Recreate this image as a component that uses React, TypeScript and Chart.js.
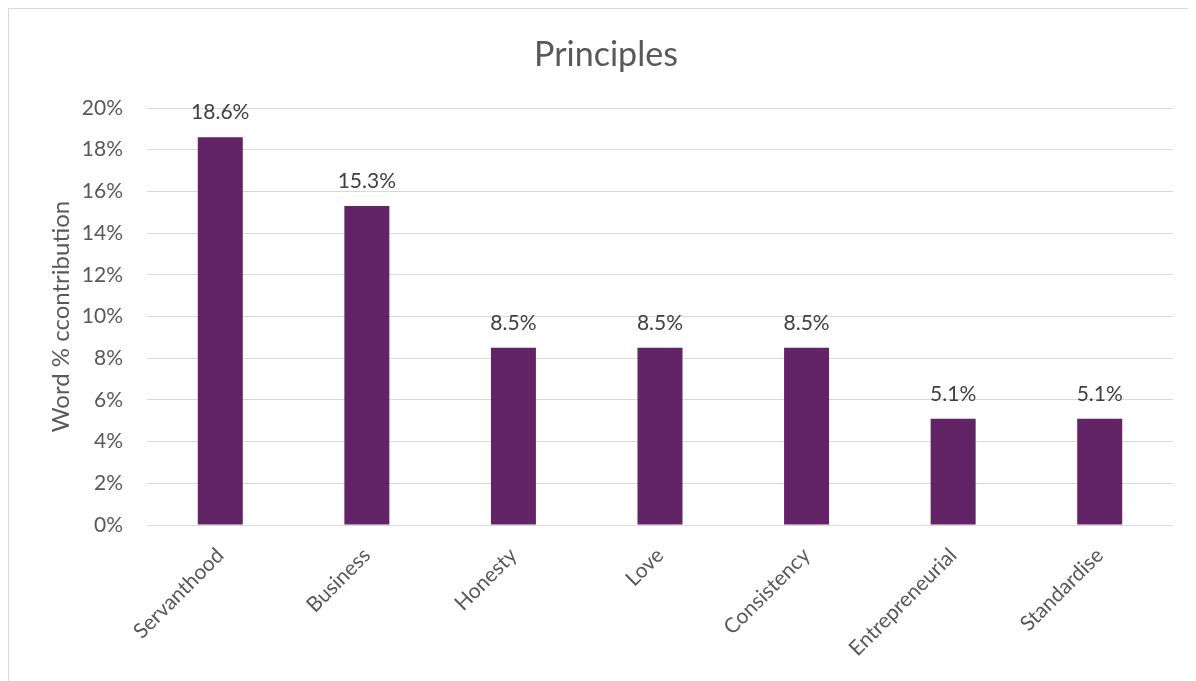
import React, { useEffect, useRef } from "react";
import { Chart, registerables } from "chart.js";

Chart.register(...registerables);

const categories = ["Servanthood", "Business", "Honesty", "Love", "Consistency", "Entrepreneurial", "Standardise"];
const values = [18.6, 15.3, 8.5, 8.5, 8.5, 5.1, 5.1];
const yTicks = [0, 2, 4, 6, 8, 10, 12, 14, 16, 18, 20];
const chartTitle = "Principles";
const yAxisTitle = "Word % ccontribution";

const FONT = "Lato, 'Open Sans', sans-serif";

const labelPlugin = {
  id: "barLabels",
  afterDatasetsDraw(chart: any) {
    const ctx = chart.ctx;
    const meta = chart.getDatasetMeta(0);
    ctx.save();
    ctx.font = `21px ${FONT}`;
    ctx.fillStyle = "#404040";
    ctx.textAlign = "center";
    ctx.textBaseline = "alphabetic";
    meta.data.forEach((bar: any, i: number) => {
      ctx.fillText(values[i].toFixed(1) + "%", bar.x, bar.y - 18);
    });
    ctx.restore();
  },
};

const titlePlugin = {
  id: "customTitle",
  afterDraw(chart: any) {
    const ctx = chart.ctx;
    ctx.save();
    ctx.font = `34px ${FONT}`;
    ctx.fillStyle = "#595959";
    ctx.textAlign = "center";
    ctx.textBaseline = "middle";
    ctx.fillText(chartTitle, chart.width / 2, 46);
    ctx.restore();
  },
};

export default function App() {
  const ref = useRef<HTMLCanvasElement>(null);
  useEffect(() => {
    if (!ref.current) return;
    const chart = new Chart(ref.current, {
      type: "bar",
      data: {
        labels: categories,
        datasets: [
          {
            data: values,
            backgroundColor: "#622466",
            categoryPercentage: 1,
            barPercentage: 0.307,
          },
        ],
      },
      options: {
        animation: false,
        responsive: false,
        layout: { padding: { top: 99, left: 0, right: 30, bottom: 0 } },
        plugins: { legend: { display: false }, title: { display: false }, tooltip: { enabled: false } },
        scales: {
          x: {
            grid: { display: false },
            border: { display: false },
            ticks: {
              color: "#595959",
              font: { size: 21, family: FONT },
              minRotation: 45,
              maxRotation: 45,
              padding: 10,
            },
            afterFit(scale: any) {
              scale.height = 164;
            },
          },
          y: {
            min: 0,
            max: 20,
            afterBuildTicks(scale: any) {
              scale.ticks = yTicks.map((v) => ({ value: v }));
            },
            grid: { color: "#d9d9d9", lineWidth: 1, drawTicks: false },
            border: { display: false },
            ticks: {
              color: "#595959",
              font: { size: 21, family: FONT },
              padding: 24,
              callback: (v: any) => v + "%",
            },
            title: {
              display: true,
              text: yAxisTitle,
              color: "#595959",
              font: { size: 24, family: FONT },
              padding: { top: 38, bottom: 0 },
            },
            afterFit(scale: any) {
              scale.width = 138;
            },
          },
        },
      },
      plugins: [labelPlugin, titlePlugin],
    });
    return () => chart.destroy();
  }, []);

  return (
    <div
      style={{
        width: 1187,
        height: 672,
        borderTop: "1px solid #d9d9d9",
        borderLeft: "1px solid #d9d9d9",
        overflow: "hidden",
        position: "relative",
        background: "#fff",
      }}
    >
      <canvas ref={ref} width={1194} height={680} style={{ display: "block" }} />
    </div>
  );
}
